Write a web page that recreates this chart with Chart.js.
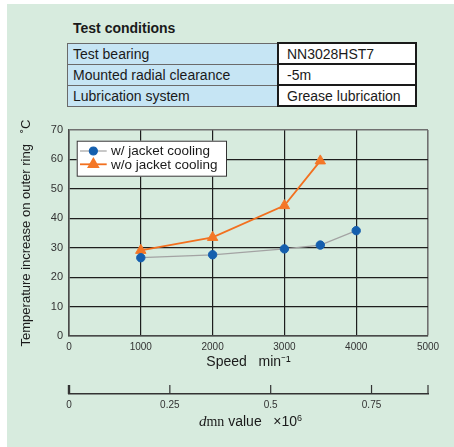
<!DOCTYPE html>
<html>
<head>
<meta charset="utf-8">
<script src="https://cdn.jsdelivr.net/npm/chart.js@4/dist/chart.umd.min.js"></script>
<style>
  html, body { margin: 0; padding: 0; background: #ffffff; }
  body { width: 454px; height: 447px; position: relative; overflow: hidden;
         font-family: "Liberation Sans", Arial, sans-serif; color: #1a1a1a; }
  #panel { position: absolute; left: 7px; top: 4px; width: 447px; height: 443px; background: #d7ebde; }
  #tc { position: absolute; left: 73px; top: 20px; font-weight: bold; font-size: 14px; }
  #cond { position: absolute; left: 67px; top: 42px; border-collapse: collapse; font-size: 14px; line-height: 16px; }
  #cond td { height: 19px; padding: 0; white-space: nowrap; }
  #cond td.k { width: 204px; padding-left: 5px; background: #c6e5f4; border: 1px solid #6a6a6a; }
  #cond td.v { width: 128px; padding-left: 8px; background: #ffffff; border: 2px solid #1a1a1a; }
  #chart { position: absolute; left: 7px; top: 110px; }
</style>
</head>
<body>
<div id="panel"></div>
<div id="tc">Test conditions</div>
<table id="cond">
  <tr><td class="k">Test bearing</td><td class="v">NN3028HST7</td></tr>
  <tr><td class="k">Mounted radial clearance</td><td class="v">-5m</td></tr>
  <tr><td class="k">Lubrication system</td><td class="v">Grease lubrication</td></tr>
</table>
<canvas id="chart" width="447" height="337"></canvas>
<script>
// Measured outer-ring temperature rise against spindle speed
const speedsWithJacket = [1000, 2000, 3000, 3500, 4000];
const tempWithJacket = [26.6, 27.6, 29.6, 30.9, 35.8];
const speedsWithoutJacket = [1000, 2000, 3000, 3500];
const tempWithoutJacket = [29.1, 33.5, 44.3, 59.5];
const seriesLabels = ['w/ jacket cooling', 'w/o jacket cooling'];

// Axis ranges and tick labels
const speedRange = [0, 5000];
const speedStep = 1000;
const tempRange = [0, 70];
const tempStep = 10;
const dmnRange = [0, 0.89];
const dmnTickLabels = [0, 0.25, 0.5, 0.75];

const FONT = '"Liberation Sans", Arial, sans-serif';

const toPoints = (xs, ys) => xs.map((x, i) => ({ x: x, y: ys[i] }));

// Boxed legend inside the plot area
const boxedLegend = {
  id: 'boxedLegend',
  afterDatasetsDraw(chart) {
    const ctx = chart.ctx;
    const area = chart.chartArea;
    const bx = area.left + 7.7, by = area.top + 10.7, bw = 150.3, bh = 36;
    ctx.save();
    ctx.fillStyle = '#ffffff';
    ctx.fillRect(bx, by, bw, bh);
    ctx.strokeStyle = '#333333';
    ctx.lineWidth = 1;
    ctx.strokeRect(bx + 0.5, by + 0.5, bw - 1, bh - 1);
    chart.data.datasets.forEach((ds, i) => {
      const cy = by + 10.3 + i * 13.3;
      const x0 = bx + 3.3, x1 = bx + 30;
      ctx.strokeStyle = ds.borderColor;
      ctx.lineWidth = ds.borderWidth;
      ctx.beginPath();
      ctx.moveTo(x0, cy);
      ctx.lineTo(x1, cy);
      ctx.stroke();
      ctx.fillStyle = ds.pointBackgroundColor;
      ctx.strokeStyle = ds.pointBorderColor;
      Chart.helpers.drawPoint(ctx, {
        pointStyle: ds.pointStyle,
        radius: ds.legendRadius,
        borderWidth: 1,
        rotation: 0
      }, (x0 + x1) / 2, cy);
      ctx.fillStyle = '#1a1a1a';
      ctx.font = '13.5px ' + FONT;
      ctx.textBaseline = 'middle';
      ctx.textAlign = 'left';
      ctx.fillText(ds.label, bx + 34.3, cy + 0.5);
    });
    ctx.restore();
  }
};

// Secondary dmn axis: upward tick marks and a mixed-font title
const dmnAxisDecor = {
  id: 'dmnAxisDecor',
  afterDraw(chart) {
    const s = chart.scales.x2;
    const ctx = chart.ctx;
    const y = s.top;
    const values = s.ticks.map(t => t.value);
    if (!values.includes(s.max)) values.push(s.max);
    ctx.save();
    ctx.strokeStyle = '#333333';
    values.forEach(v => {
      const px = s.getPixelForValue(v);
      ctx.lineWidth = v === 0 ? 2.4 : 1.2;
      ctx.beginPath();
      ctx.moveTo(px, y);
      ctx.lineTo(px, y - 9);
      ctx.stroke();
    });
    // title: italic d, serif mn, then "value ×10^6"
    const parts = [
      { t: 'd', f: 'italic 15px "Liberation Serif", serif', dy: 0 },
      { t: 'mn', f: '14px "Liberation Serif", serif', dy: 0 },
      { t: ' value   ×10', f: '14px ' + FONT, dy: 0 },
      { t: '6', f: '9px ' + FONT, dy: -5 }
    ];
    let total = 0;
    parts.forEach(p => { ctx.font = p.f; p.w = ctx.measureText(p.t).width; total += p.w; });
    let x = (s.left + s.right) / 2 + 2 - total / 2;
    const base = y + 32;
    ctx.fillStyle = '#1a1a1a';
    ctx.textBaseline = 'alphabetic';
    ctx.textAlign = 'left';
    parts.forEach(p => {
      ctx.font = p.f;
      ctx.fillText(p.t, x, base + p.dy);
      x += p.w;
    });
    ctx.restore();
  }
};

new Chart(document.getElementById('chart'), {
  type: 'line',
  data: {
    datasets: [
      {
        label: seriesLabels[0],
        data: toPoints(speedsWithJacket, tempWithJacket),
        borderColor: '#a3a3a3',
        borderWidth: 1.2,
        pointStyle: 'circle',
        pointRadius: 4.2,
        legendRadius: 4,
        pointBackgroundColor: '#155fae',
        pointBorderColor: '#155fae',
        pointBorderWidth: 1
      },
      {
        label: seriesLabels[1],
        data: toPoints(speedsWithoutJacket, tempWithoutJacket),
        borderColor: '#f2701f',
        borderWidth: 1.8,
        pointStyle: 'triangle',
        pointRadius: 6,
        legendRadius: 5.5,
        pointBackgroundColor: '#f47727',
        pointBorderColor: '#f47727',
        pointBorderWidth: 1
      }
    ]
  },
  options: {
    responsive: false,
    animation: false,
    layout: { padding: { top: 20, right: 26, bottom: 0, left: 0 } },
    plugins: {
      legend: { display: false },
      tooltip: { enabled: false }
    },
    scales: {
      x: {
        type: 'linear',
        position: 'bottom',
        weight: 0,
        min: speedRange[0],
        max: speedRange[1],
        afterFit: s => { s.height = 58; },
        ticks: {
          stepSize: speedStep,
          color: '#333333',
          padding: 5,
          font: { family: FONT, size: 10 },
          callback: v => String(v)
        },
        grid: {
          drawTicks: false,
          color: c => (c.tick && c.tick.value === speedRange[1]) ? '#707070' : '#1e1e1e',
          lineWidth: c => (c.tick && c.tick.value === speedRange[1]) ? 1.6 : 1.2
        },
        border: { color: '#4a4a4a', width: 1.6 },
        title: {
          display: true,
          text: 'Speed   min⁻¹',
          color: '#1a1a1a',
          font: { family: FONT, size: 14 },
          padding: { top: 0, bottom: 23 }
        }
      },
      x2: {
        type: 'linear',
        position: 'bottom',
        weight: 1,
        min: dmnRange[0],
        max: dmnRange[1],
        afterFit: s => { s.height = 53; },
        ticks: {
          stepSize: 0.25,
          color: '#333333',
          padding: 5,
          autoSkip: false,
          maxRotation: 0,
          font: { family: FONT, size: 10 },
          callback: v => dmnTickLabels.some(d => Math.abs(d - v) < 1e-6) ? String(v) : ''
        },
        grid: { drawOnChartArea: false, drawTicks: false },
        border: { display: true, color: '#333333', width: 1.5 }
      },
      y: {
        type: 'linear',
        min: tempRange[0],
        max: tempRange[1],
        afterFit: s => { s.width = 62; },
        ticks: { stepSize: tempStep, color: '#333333', padding: 6, font: { family: FONT, size: 11 } },
        grid: {
          drawTicks: false,
          color: c => (c.tick && c.tick.value === tempRange[1]) ? '#707070' : '#1e1e1e',
          lineWidth: c => (c.tick && c.tick.value === tempRange[1]) ? 1.6 : 1.2
        },
        border: { color: '#4a4a4a', width: 1.6 },
        title: {
          display: true,
          text: 'Temperature increase on outer ring   ˚C',
          color: '#1a1a1a',
          font: { family: FONT, size: 13 },
          padding: { top: 12, bottom: 0 }
        }
      }
    }
  },
  plugins: [boxedLegend, dmnAxisDecor]
});
</script>
</body>
</html>
